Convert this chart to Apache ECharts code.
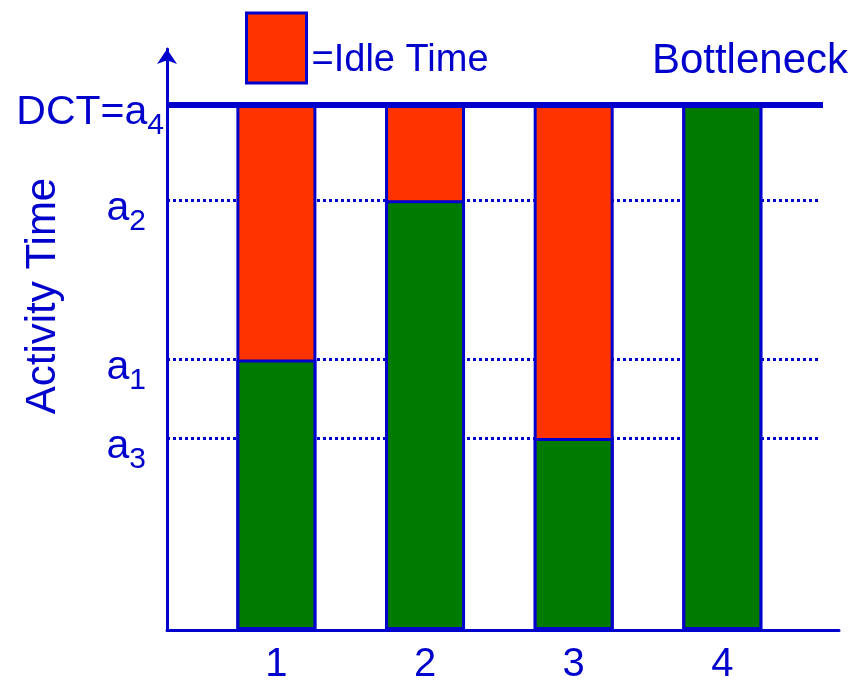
<!DOCTYPE html>
<html>
<head>
<meta charset="utf-8">
<script src="https://cdn.jsdelivr.net/npm/echarts@6/dist/echarts.min.js"></script>
<style>
  html, body { margin: 0; padding: 0; background: #fff; }
  #chart { width: 852px; height: 685px; }
</style>
</head>
<body>
<div id="chart"></div>
<script>
// Workstations along the line
const stations = [1, 2, 3, 4];
// Activity time of each station (a1..a4); station 4 is the bottleneck
const activityTime = [5.15, 8.18, 3.655, 10];
// Demand cycle time, set by the bottleneck station
const dct = 10;
// Y-axis tick labels (main text + subscript), one per station
const tickMain = ['a', 'a', 'a', 'DCT=a'];
const tickSub = ['1', '2', '3', '4'];

const BLUE = '#0000CC';
const GREEN = '#007A00';
const RED = '#FF3300';
const FONT = '"Liberation Sans", Arial, sans-serif';

const chart = echarts.init(document.getElementById('chart'), null, { renderer: 'canvas' });

const barBorder = { borderColor: BLUE, borderWidth: 3 };

function tickLabel(v) {
  const i = activityTime.findIndex(a => Math.abs(a - v) < 1e-6);
  if (i < 0) return '';
  const pad = activityTime[i] === dct ? '' : '{pad| }';
  return '{m|' + tickMain[i] + '}{s|' + tickSub[i] + '}' + pad;
}

const option = {
  animation: false,
  backgroundColor: '#ffffff',
  textStyle: { fontFamily: FONT },
  grid: { left: 167, right: 13, top: 49, bottom: 52, containLabel: false },
  legend: {
    left: 245,
    top: 11.5,
    padding: 0,
    icon: 'rect',
    itemWidth: 60,
    itemHeight: 70,
    selectedMode: false,
    data: ['Idle Time'],
    formatter: name => '{t|=' + name + '}',
    itemStyle: { color: RED, borderColor: BLUE, borderWidth: 3 },
    textStyle: {
      color: BLUE,
      fontSize: 38,
      fontFamily: FONT,
      rich: {
        t: { color: BLUE, fontSize: 38, fontFamily: FONT, verticalAlign: 'middle', padding: [26, 0, 0, 0] }
      }
    }
  },
  xAxis: {
    type: 'value',
    min: 0.264,
    max: 4.785,
    axisLine: { show: true, lineStyle: { color: BLUE, width: 3 } },
    axisTick: { show: false },
    splitLine: { show: false },
    axisLabel: {
      customValues: stations,
      color: BLUE,
      fontSize: 40,
      fontFamily: FONT,
      margin: 15
    }
  },
  yAxis: {
    type: 'value',
    min: 0,
    max: 11.06,
    axisLine: {
      show: true,
      symbol: ['none', 'arrow'],
      symbolSize: [15, 15],
      lineStyle: { color: BLUE, width: 3 }
    },
    axisTick: { show: false },
    splitLine: { show: false },
    axisLabel: {
      customValues: activityTime,
      formatter: tickLabel,
      margin: 3,
      padding: [17, 0, 0, 0],
      rich: {
        m: { fontSize: 41, color: BLUE, fontFamily: FONT, verticalAlign: 'middle' },
        s: { fontSize: 30, color: BLUE, fontFamily: FONT, verticalAlign: 'middle', padding: [26, 0, 0, 0] },
        pad: { width: 18, fontSize: 30 }
      }
    }
  },
  graphic: [
    {
      type: 'text',
      x: 848,
      y: 61,
      style: { text: 'Bottleneck', fill: BLUE, fontSize: 42, fontFamily: FONT, align: 'right', verticalAlign: 'middle' }
    },
    {
      type: 'text',
      x: 43,
      y: 296,
      rotation: Math.PI / 2,
      style: { text: 'Activity Time', fill: BLUE, fontSize: 42, fontFamily: FONT, align: 'center', verticalAlign: 'middle' }
    }
  ],
  series: [
    {
      // Idle span: each station is available for the whole cycle time
      name: 'Idle Time',
      type: 'bar',
      barWidth: 80,
      barGap: '-100%',
      itemStyle: Object.assign({ color: RED }, barBorder),
      emphasis: { disabled: true },
      data: stations.map(s => [s, dct]),
      markLine: {
        z: 1,
        silent: true,
        symbol: 'none',
        label: { show: false },
        emphasis: { disabled: true },
        lineStyle: { color: BLUE, width: 3, type: [3, 3] },
        data: activityTime
          .filter(v => v !== dct)
          .map(v => [{ x: 167, yAxis: v }, { x: 820, yAxis: v }])
      }
    },
    {
      name: 'Activity Time',
      type: 'bar',
      barWidth: 80,
      barGap: '-100%',
      itemStyle: Object.assign({ color: GREEN }, barBorder),
      emphasis: { disabled: true },
      data: stations.map((s, i) => [s, activityTime[i]]),
      markLine: {
        silent: true,
        symbol: 'none',
        label: { show: false },
        emphasis: { disabled: true },
        lineStyle: { color: BLUE, width: 6, type: 'solid' },
        data: [[{ x: 167, yAxis: dct }, { x: 823, yAxis: dct }]]
      }
    }
  ]
};

chart.setOption(option);
</script>
</body>
</html>
